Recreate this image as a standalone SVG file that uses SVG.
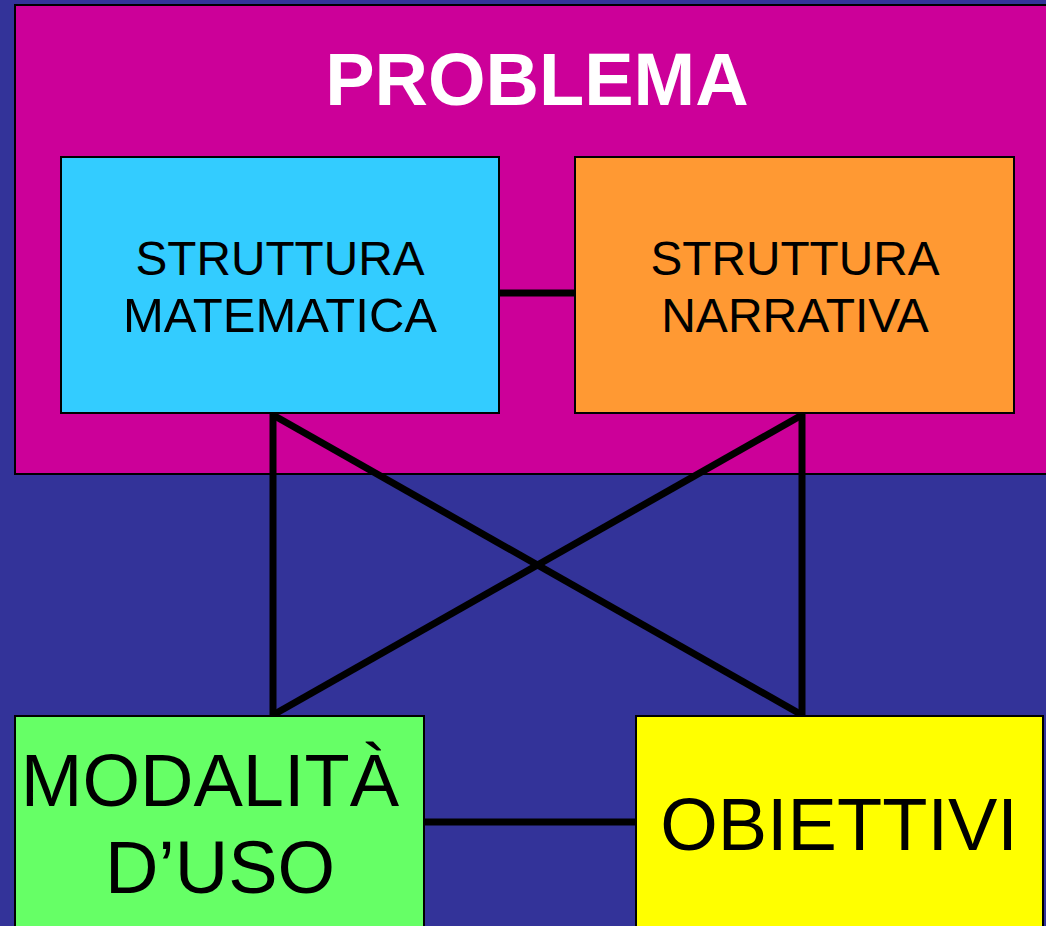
<svg xmlns="http://www.w3.org/2000/svg" width="1046" height="926" viewBox="0 0 1046 926">
<style>
.box{stroke:#000;stroke-width:2}
.t{font-family:"Liberation Sans",Arial,sans-serif;text-anchor:middle;fill:#000}
.c{stroke:#000;stroke-width:7;fill:none;stroke-linecap:butt}
</style>
<rect width="1046" height="926" fill="#333399"/>
<g id="problema">
<rect class="box" x="15" y="5" width="1040" height="469" fill="#CC0099"/>
<text class="t" x="537" y="105" font-size="74" font-weight="bold" style="fill:#fff">PROBLEMA</text>
</g>
<g id="connectors">
<line class="c" x1="499" y1="293" x2="575" y2="293"/>
<line class="c" x1="273" y1="413" x2="273" y2="716"/>
<line class="c" x1="802" y1="413" x2="802" y2="716"/>
<line class="c" x1="273" y1="415" x2="802" y2="715"/>
<line class="c" x1="802" y1="415" x2="273" y2="715"/>
<line class="c" x1="424" y1="822" x2="636" y2="822"/>
</g>
<g id="matematica">
<rect class="box" x="61" y="157" width="438" height="256" fill="#33CCFF"/>
<text class="t" x="280" y="275" font-size="48" textLength="289" lengthAdjust="spacingAndGlyphs">STRUTTURA</text>
<text class="t" x="280" y="332" font-size="48" textLength="314" lengthAdjust="spacingAndGlyphs">MATEMATICA</text>
</g>
<g id="narrativa">
<rect class="box" x="575" y="157" width="439" height="256" fill="#FF9933"/>
<text class="t" x="795" y="275" font-size="48" textLength="289" lengthAdjust="spacingAndGlyphs">STRUTTURA</text>
<text class="t" x="795" y="332" font-size="48">NARRATIVA</text>
</g>
<g id="modalita">
<rect class="box" x="15" y="716" width="409" height="220" fill="#66FF66"/>
<text class="t" x="210" y="806" font-size="74">MODALITÀ</text>
<text class="t" x="220" y="893" font-size="74">D’USO</text>
</g>
<g id="obiettivi">
<rect class="box" x="636" y="716" width="407" height="220" fill="#FFFF00"/>
<text class="t" x="839" y="850" font-size="74">OBIETTIVI</text>
</g>
</svg>
